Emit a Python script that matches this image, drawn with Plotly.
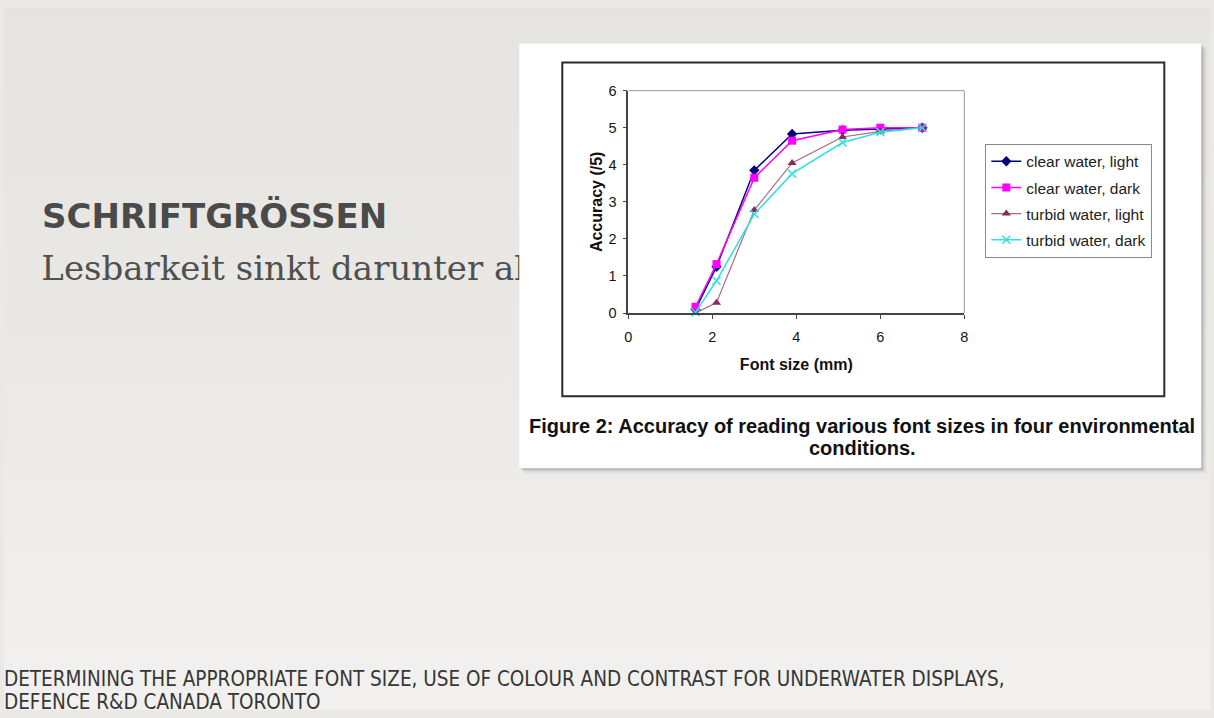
import plotly.graph_objects as go

W, H = 1214, 718

# ---- data ----
font_size = [1.6, 2.1, 3.0, 3.9, 5.1, 6.0, 7.0]
clear_light = [0.10, 1.25, 3.85, 4.83, 4.93, 4.96, 5.00]
clear_dark = [0.17, 1.32, 3.65, 4.65, 4.95, 5.00, 5.00]
turbid_light = [0.00, 0.28, 2.78, 4.05, 4.75, 4.90, 5.00]
turbid_dark = [0.02, 0.87, 2.67, 3.76, 4.60, 4.88, 5.00]

series_names = ["clear water, light", "clear water, dark",
                "turbid water, light", "turbid water, dark"]
x_ticks = [0, 2, 4, 6, 8]
y_ticks = [0, 1, 2, 3, 4, 5, 6]

slide_title = "SCHRIFTGRÖSSEN"
slide_subtitle = "Lesbarkeit sinkt darunter ab"
caption_line1 = "Figure 2: Accuracy of reading various font sizes in four environmental"
caption_line2 = "conditions."
footer1 = "DETERMINING THE APPROPRIATE FONT SIZE, USE OF COLOUR AND CONTRAST FOR UNDERWATER DISPLAYS,"
footer2 = "DEFENCE R&D CANADA TORONTO"

# ---- layout helpers: target screen pixel -> figure coordinates ----
SX, OX = 0.9934, 3.7
SY, OY = 0.976, 7.5

def bx(s):
    return (s - OX) / SX

def by(s):
    return (s - OY) / SY

def px(s):
    return bx(s) / W

def py(s):
    return 1 - by(s) / H

box = (519, 43, 1201, 467)           # white picture box
chart_border = (562, 62, 1164, 395)  # black chart-area border
plot_left, plot_right, plot_top, plot_bottom = 628, 964, 90, 312

fig = go.Figure()

# slide background gradient
fig.add_trace(go.Scatter(
    x=[0, W, W, 0, 0], y=[0, 0, H, H, 0], mode="lines", fill="toself",
    line=dict(width=0), fillcolor="#ebe9e6",
    fillgradient=dict(type="vertical", start=0, stop=H,
                      colorscale=[[0, "#e6e4e0"], [0.5, "#ebe9e6"], [1, "#f2f1ef"]]),
    hoverinfo="skip", showlegend=False, xaxis="x", yaxis="y"))

# subtitle (partly hidden behind the picture box)
fig.add_trace(go.Scatter(
    x=[bx(41)], y=[by(271)], mode="text", text=[slide_subtitle], textposition="middle right",
    textfont=dict(family="DejaVu Serif", size=34, color="#505050"),
    hoverinfo="skip", showlegend=False, xaxis="x", yaxis="y", cliponaxis=False))

# shadow of the picture box
x0, y0, x1, y1 = box
for off, alpha in [(5, 0.05), (3, 0.08), (1.5, 0.12)]:
    fig.add_trace(go.Scatter(
        x=[bx(x0 + off), bx(x1 + off), bx(x1 + off), bx(x0 + off), bx(x0 + off)],
        y=[by(y0 + off), by(y0 + off), by(y1 + off), by(y1 + off), by(y0 + off)],
        mode="lines", fill="toself", line=dict(width=0),
        fillcolor=f"rgba(0,0,0,{alpha})", hoverinfo="skip", showlegend=False,
        xaxis="x", yaxis="y"))

# white picture box
fig.add_trace(go.Scatter(
    x=[bx(x0), bx(x1), bx(x1), bx(x0), bx(x0)],
    y=[by(y0), by(y0), by(y1), by(y1), by(y0)], mode="lines", fill="toself",
    line=dict(width=0), fillcolor="#ffffff", hoverinfo="skip", showlegend=False,
    xaxis="x", yaxis="y"))

# ---- chart series ----
styles = [
    dict(line=dict(color="#000080", width=1.5),
         marker=dict(symbol="diamond", size=8, color="#000080")),
    dict(line=dict(color="#ff00ff", width=1.5),
         marker=dict(symbol="square", size=8, color="#ff00ff")),
    dict(line=dict(color="#a86a80", width=1.2),
         marker=dict(symbol="triangle-up", size=8, color="#8b2a55")),
    dict(line=dict(color="#2fe0e0", width=1.5),
         marker=dict(symbol="x-thin", size=8, color="#2fe0e0",
                     line=dict(color="#2fe0e0", width=1.5))),
]
for name, ys, st in zip(series_names,
                        [clear_light, clear_dark, turbid_light, turbid_dark], styles):
    fig.add_trace(go.Scatter(
        x=font_size, y=ys, name=name, mode="lines+markers", legendgroup=name,
        xaxis="x2", yaxis="y2", cliponaxis=False, **st))

# ---- shapes ----
shapes = [
    dict(type="rect", xref="paper", yref="paper",
         x0=px(chart_border[0]), x1=px(chart_border[2]),
         y0=py(chart_border[3]), y1=py(chart_border[1]),
         line=dict(color="#2a2a2a", width=2), fillcolor="rgba(0,0,0,0)", layer="above"),
    dict(type="line", xref="paper", yref="paper",
         x0=px(plot_left), x1=px(plot_right), y0=py(plot_top), y1=py(plot_top),
         line=dict(color="#9a9a9a", width=1), layer="above"),
    dict(type="line", xref="paper", yref="paper",
         x0=px(plot_right), x1=px(plot_right), y0=py(plot_top), y1=py(plot_bottom),
         line=dict(color="#9a9a9a", width=1), layer="above"),
]

def ann(text, x, y, font, xanchor="left"):
    return dict(text=text, x=px(x), y=py(y), xref="paper", yref="paper",
                xanchor=xanchor, yanchor="middle", showarrow=False, font=font)

title_f = dict(family="DejaVu Sans", size=34, color="#4a4a4a")
cap_f = dict(family="Liberation Sans", size=20, color="#111111")
foot_f = dict(family="DejaVu Sans Condensed", size=20.5, color="#363636")

annotations = [
    ann(f"<b>{slide_title}</b>", 40, 215, title_f),
    ann(f"<b>{caption_line1}</b>", 862, 425, cap_f, "center"),
    ann(f"<b>{caption_line2}</b>", 862, 447, cap_f, "center"),
    ann(footer1, 2, 677, foot_f),
    ann(footer2, 2, 700, foot_f),
]

tick_font = dict(family="Liberation Sans", size=14.5, color="#151515")
title_font = dict(family="Liberation Sans", size=16, color="#111111")

fig.update_layout(
    width=W, height=H,
    margin=dict(l=0, r=0, t=0, b=0),
    paper_bgcolor="#ebe9e6", plot_bgcolor="rgba(0,0,0,0)",
    xaxis=dict(domain=[0, 1], range=[0, W], visible=False, fixedrange=True),
    yaxis=dict(domain=[0, 1], range=[H, 0], visible=False, fixedrange=True),
    xaxis2=dict(domain=[px(plot_left), px(plot_right)], anchor="y2",
                range=[0, 8], tickvals=x_ticks, ticks="outside", ticklen=4,
                tickcolor="#444444", showline=True, linecolor="#444444", linewidth=1.5,
                showgrid=False, zeroline=False, tickfont=tick_font, ticklabelstandoff=6,
                title=dict(text="<b>Font size (mm)</b>", font=title_font, standoff=15)),
    yaxis2=dict(domain=[py(plot_bottom), py(plot_top)], anchor="x2",
                range=[0, 6], tickvals=y_ticks, ticks="outside", ticklen=4,
                tickcolor="#444444", showline=True, linecolor="#444444", linewidth=1.5,
                showgrid=False, zeroline=False, tickfont=tick_font, ticklabelstandoff=3,
                title=dict(text="<b>Accuracy (/5)</b>", font=title_font, standoff=2)),
    showlegend=True,
    legend=dict(x=px(985), y=py(143), xanchor="left", yanchor="top",
                bgcolor="#ffffff", bordercolor="#8a8a8a", borderwidth=1,
                font=dict(family="Liberation Sans", size=15.5, color="#222222"),
                tracegroupgap=3, itemwidth=30),
    shapes=shapes,
    annotations=annotations,
)

fig.write_html("out.html")
